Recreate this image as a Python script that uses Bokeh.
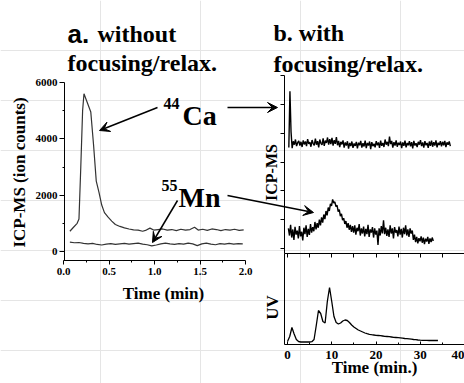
import numpy as np
from bokeh.plotting import figure
from bokeh.models import (Range1d, FixedTicker, Label, Arrow, VeeHead, LinearAxis,
                          NumeralTickFormatter)
from bokeh.embed import file_html
from bokeh.resources import INLINE

SERIF = "Liberation Serif"
SANS = "Liberation Sans"

# ---------------- data: panel a (without focusing) ----------------
ca_a_time = [0.07, 0.11, 0.15, 0.17, 0.19, 0.21, 0.225, 0.26, 0.30, 0.33, 0.36, 0.39,
             0.42, 0.45, 0.49, 0.53, 0.57, 0.62, 0.67, 0.72, 0.77, 0.82, 0.87, 0.91,
             0.95, 0.99, 1.04, 1.09, 1.14, 1.19, 1.24, 1.29, 1.34, 1.39, 1.44, 1.48,
             1.53, 1.58, 1.63, 1.68, 1.73, 1.78, 1.83, 1.88, 1.93, 1.98]
ca_a_counts = [720, 860, 1000, 1150, 3000, 5000, 5600, 5300, 4950, 3800, 2500, 2100,
               1650, 1380, 1220, 1080, 960, 890, 840, 800, 770, 760, 720, 760,
               830, 760, 780, 800, 760, 780, 740, 790, 760, 780, 860, 760,
               790, 750, 800, 780, 740, 780, 760, 790, 750, 770]
mn_a_time = [0.07, 0.12, 0.17, 0.22, 0.27, 0.32, 0.37, 0.42, 0.47, 0.52, 0.57, 0.62,
             0.67, 0.72, 0.77, 0.82, 0.87, 0.92, 0.97, 1.02, 1.07, 1.12, 1.17, 1.22,
             1.27, 1.32, 1.37, 1.42, 1.47, 1.52, 1.57, 1.62, 1.67, 1.72, 1.77, 1.82,
             1.87, 1.92, 1.97]
mn_a_counts = [330, 310, 320, 290, 270, 290, 250, 230, 260, 280, 250, 270,
               290, 260, 280, 300, 260, 240, 200, 230, 270, 300, 270, 250,
               280, 260, 300, 270, 210, 270, 300, 260, 240, 280, 260, 290,
               260, 280, 270]
a_xticks = [0.0, 0.5, 1.0, 1.5, 2.0]
a_xminor = [0.25, 0.75, 1.25, 1.75]
a_yticks = [0, 2000, 4000, 6000]
a_yminor = [1000, 3000, 5000]

# ---------------- data: panel b (with focusing) ----------------
ca_b_start, ca_b_step = 0.3, 0.25
ca_b_signal = [3.50, 5.45, 4.05, 3.48, 3.72, 3.60, 3.78, 3.55, 3.67, 3.73,
               3.57, 3.70, 3.52, 3.75, 3.61, 3.71, 3.55, 3.79, 3.63, 3.69,
               3.53, 3.76, 3.64, 3.58, 3.81, 3.60, 3.72, 3.51, 3.78, 3.65,
               3.59, 3.82, 3.56, 3.74, 3.66, 3.85, 3.60, 3.79, 3.62, 3.84,
               3.57, 3.76, 3.63, 3.86, 3.58, 3.73, 3.52, 3.70, 3.61, 3.75,
               3.50, 3.68, 3.57, 3.72, 3.46, 3.66, 3.55, 3.71, 3.49, 3.64,
               3.56, 3.70, 3.47, 3.67, 3.58, 3.73, 3.50, 3.65, 3.54, 3.74,
               3.48, 3.66, 3.57, 3.71, 3.45, 3.69, 3.55, 3.63, 3.51, 3.72,
               3.58, 3.68, 3.49, 3.74, 3.56, 3.66, 3.52, 3.78, 3.60, 3.70,
               3.55, 3.88, 3.62, 3.73, 3.50, 3.69, 3.57, 3.75, 3.53, 3.67,
               3.59, 3.71, 3.48, 3.68, 3.56, 3.74, 3.51, 3.66, 3.58, 3.72,
               3.54, 3.69, 3.47, 3.73, 3.57, 3.65, 3.52, 3.70, 3.60, 3.76,
               3.55, 3.68, 3.50, 3.72, 3.58, 3.66, 3.49, 3.71, 3.56, 3.74,
               3.53, 3.69, 3.57, 3.75, 3.51, 3.67, 3.59, 3.72, 3.54, 3.70,
               3.58, 3.73, 3.52, 3.68, 3.60, 3.71, 3.55]
mn_b_start, mn_b_step = 0.2, 0.25
mn_b_signal = [0.70, 0.45, 0.82, 0.38, 0.66, 0.30, 0.75, 0.48, 0.62, 0.35,
               0.78, 0.42, 0.58, 0.28, 0.72, 0.50, 0.80, 0.40, 0.68, 0.47,
               0.85, 0.55, 0.74, 0.60, 0.92, 0.66, 0.88, 0.72, 1.00, 0.80,
               1.08, 0.90, 1.18, 1.02, 1.30, 1.15, 1.42, 1.30, 1.55, 1.48,
               1.70, 1.58, 1.62, 1.45, 1.50, 1.28, 1.35, 1.12, 1.20, 0.98,
               1.05, 0.85, 0.95, 0.72, 0.88, 0.65, 0.82, 0.58, 0.78, 0.55,
               0.80, 0.48, 0.72, 0.60, 0.85, 0.45, 0.70, 0.52, 0.76, 0.42,
               0.68, 0.50, 0.82, 0.40, 0.66, 0.55, 0.74, 0.38, 0.70, 0.48,
               0.62, 0.12, 0.70, 0.45, 0.78, 0.52, 0.98, 0.50, 0.72, 0.44,
               0.66, 0.40, 0.80, 0.52, 0.70, 0.35, 0.74, 0.55, 0.64, 0.42,
               0.76, 0.48, 0.68, 0.38, 0.72, 0.50, 0.80, 0.45, 0.66, 0.40,
               0.70, 0.52, 0.62, 0.30, 0.48, 0.22, 0.40, 0.18, 0.36, 0.25,
               0.42, 0.20, 0.38, 0.15, 0.34, 0.24, 0.40, 0.16, 0.35, 0.22,
               0.38, 0.26]
uv_start, uv_step = 0.0, 0.5
uv_signal = [0.30, 0.80, 1.70, 1.05, 0.50, 0.30, 0.25, 0.25, 0.25, 0.25,
             0.25, 0.28, 0.50, 1.90, 3.40, 3.10, 2.30, 2.15, 4.30, 5.70,
             4.30, 2.80, 2.20, 2.05, 2.15, 2.35, 2.45, 2.40, 2.20, 1.95,
             1.75, 1.60, 1.45, 1.35, 1.25, 1.15, 1.08, 1.02, 0.98, 0.95,
             0.92, 0.90, 0.88, 0.85, 0.82, 0.80, 0.78, 0.75, 0.72, 0.70,
             0.68, 0.66, 0.63, 0.60, 0.58, 0.56, 0.53, 0.50, 0.48, 0.45,
             0.43, 0.42, 0.42, 0.41, 0.40, 0.40, 0.40, 0.40, 0.40]
b_yticks = [0, 1, 2, 3, 4, 5, 6]
b_top_xticks = [0, 5, 10, 15, 20, 25, 30, 35]
b_xticks = [0, 10, 20, 30, 40]
b_xminor = [5, 15, 25, 35]

ca_b_time = ca_b_start + ca_b_step * np.arange(len(ca_b_signal))
mn_b_time = mn_b_start + mn_b_step * np.arange(len(mn_b_signal))
uv_time = uv_start + uv_step * np.arange(len(uv_signal))

# ---------------- layout geometry (page pixels) ----------------
W, H = 464, 383


def mapper(p_a, v_a, p_b, v_b):
    k = (v_b - v_a) / (p_b - p_a)
    return lambda pix: v_a + (pix - p_a) * k


ta = mapper(63, 0.0, 245, 2.0)        # panel a: time (min)
va = mapper(251, 0.0, 82, 6000.0)     # panel a: ion counts
tb = mapper(287, 0.0, 464, 40.0)      # panel b: time (min.)
v1 = mapper(248, 0.0, 75, 6.0)        # panel b: ICP-MS (arb.)
v2 = mapper(344, 0.0, 253, 9.1)       # panel b: UV (arb.)

p = figure(width=W, height=H, output_backend="svg", toolbar_location=None,
           x_range=Range1d(0, W), y_range=Range1d(H, 0), min_border=0,
           x_axis_location=None, y_axis_location=None)
p.min_border_left = p.min_border_right = p.min_border_top = p.min_border_bottom = 0
p.outline_line_color = None
p.background_fill_color = "white"
p.border_fill_color = "white"
p.extra_x_ranges = {"ta": Range1d(ta(0), ta(W)), "tb": Range1d(tb(0), tb(W))}
p.extra_y_ranges = {"va": Range1d(va(H), va(0)), "v1": Range1d(v1(H), v1(0)),
                    "v2": Range1d(v2(H), v2(0))}

# ---------------- data lines ----------------
p.line(ca_a_time, ca_a_counts, x_range_name="ta", y_range_name="va",
       color="#333333", line_width=1.2)
p.line(mn_a_time, mn_a_counts, x_range_name="ta", y_range_name="va",
       color="#333333", line_width=1.2)
p.line(ca_b_time, ca_b_signal, x_range_name="tb", y_range_name="v1",
       color="black", line_width=1.4)
p.line(mn_b_time, mn_b_signal, x_range_name="tb", y_range_name="v1",
       color="black", line_width=1.4)
p.line(uv_time, uv_signal, x_range_name="tb", y_range_name="v2",
       color="black", line_width=1.3)


# ---------------- axes (fixed locations) ----------------
def make_axis(xr, yr, loc, bounds, ticker, size="11px", **kw):
    ax = LinearAxis(x_range_name=xr, y_range_name=yr, fixed_location=loc,
                    bounds=bounds, ticker=ticker,
                    axis_line_color="black", axis_line_width=1,
                    major_tick_line_color="black", minor_tick_line_color="black",
                    major_label_text_font=SERIF, major_label_text_font_style="bold",
                    major_label_text_font_size=size, major_label_text_color="black",
                    **kw)
    return ax


p.add_layout(make_axis("ta", "va", va(260), (0.0, 2.0),
                       FixedTicker(ticks=a_xticks, minor_ticks=a_xminor),
                       formatter=NumeralTickFormatter(format="0.0"),
                       major_tick_out=4, major_tick_in=0, minor_tick_out=2,
                       minor_tick_in=0, major_label_standoff=3), "below")
p.add_layout(make_axis("ta", "va", ta(64), (va(260), 6000.0),
                       FixedTicker(ticks=a_yticks, minor_ticks=a_yminor),
                       major_tick_out=5, major_tick_in=0, minor_tick_out=2,
                       minor_tick_in=0, major_label_standoff=2), "left")
p.add_layout(make_axis("tb", "v1", tb(284), (v1(253), 6.0),
                       FixedTicker(ticks=[], minor_ticks=b_yticks),
                       major_tick_out=0, major_tick_in=0, minor_tick_out=4,
                       minor_tick_in=0), "left")
p.add_layout(make_axis("tb", "v2", tb(284), (0.0, 9.1),
                       FixedTicker(ticks=[], minor_ticks=[]),
                       major_tick_out=0, major_tick_in=0, minor_tick_out=0,
                       minor_tick_in=0), "left")
p.add_layout(make_axis("tb", "v2", 9.1, (tb(284), 40.0),
                       FixedTicker(ticks=[], minor_ticks=b_top_xticks),
                       major_tick_out=0, major_tick_in=0, minor_tick_out=0,
                       minor_tick_in=4), "above")
p.add_layout(make_axis("tb", "v2", 0.0, (tb(284), 40.0),
                       FixedTicker(ticks=b_xticks, minor_ticks=b_xminor),
                       size="13px", major_tick_out=0, major_tick_in=3,
                       minor_tick_out=0, minor_tick_in=2,
                       major_label_standoff=6), "below")


# ---------------- texts ----------------
def txt(x, y, s, size, font=SERIF, angle=0.0, align="left", baseline="alphabetic"):
    p.add_layout(Label(x=x, y=y, text=s, text_font=font, text_font_style="bold",
                       text_font_size=size, text_color="black", angle=angle,
                       text_baseline=baseline, text_align=align))


txt(67, 33, "a.", "26px", SANS)
txt(97, 33, "without", "24px")
txt(67, 62, "focusing/relax.", "24px")
txt(273, 32, "b. with", "24px")
txt(273, 63, "focusing/relax.", "24px")
txt(163, 103, "44", "16px")
txt(182, 115, "Ca", "28px")
txt(161, 185, "55", "16px")
txt(178, 197, "Mn", "28px")

# axis titles
txt(19, 172, "ICP-MS (ion counts)", "17px", angle=np.pi / 2, align="center",
    baseline="middle")
txt(163, 293, "Time (min)", "17px", align="center", baseline="middle")
txt(271, 172, "ICP-MS", "16px", angle=np.pi / 2, align="center", baseline="middle")
txt(272, 307, "UV", "17px", angle=np.pi / 2, align="center", baseline="middle")
txt(374, 367, "Time (min.)", "17px", align="center", baseline="middle")


# ---------------- arrows ----------------
def arrow(x0, y0, x1, y1):
    p.add_layout(Arrow(end=VeeHead(size=10, fill_color="black", line_color="black",
                                   line_width=1),
                       x_start=x0, y_start=y0, x_end=x1, y_end=y1,
                       line_width=1.5, line_color="black"))


arrow(157, 107, 99, 130)
arrow(227, 107, 277, 107)
arrow(177, 200, 152, 242)
arrow(227, 195, 313, 212)

open("out.html", "w").write(file_html(p, INLINE))
